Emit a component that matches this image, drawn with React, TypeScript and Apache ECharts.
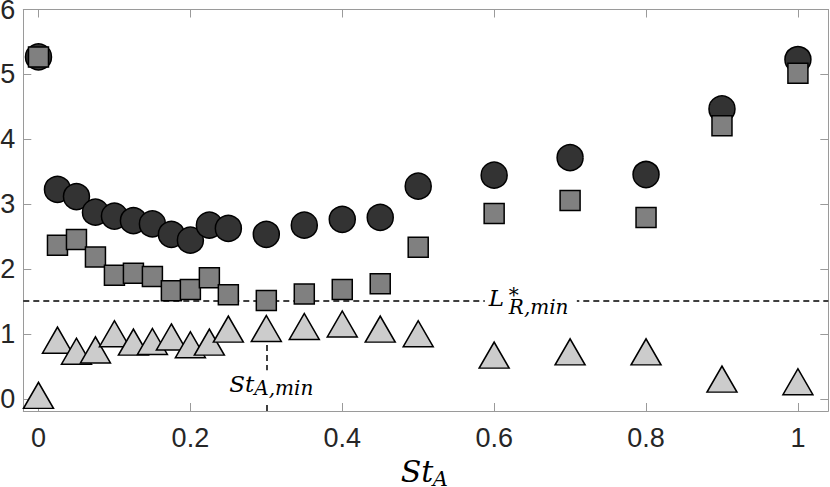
import React, { useEffect, useRef } from "react";
import * as echarts from "echarts";

// ---- data ----
const stA = [0, 0.025, 0.05, 0.075, 0.1, 0.125, 0.15, 0.175, 0.2, 0.225, 0.25, 0.3, 0.35, 0.4, 0.45, 0.5, 0.6, 0.7, 0.8, 0.9, 1];
const circleVals = [5.27, 3.23, 3.12, 2.88, 2.82, 2.75, 2.7, 2.54, 2.45, 2.68, 2.63, 2.54, 2.68, 2.77, 2.8, 3.28, 3.45, 3.72, 3.46, 4.47, 5.23];
const squareVals = [5.27, 2.37, 2.46, 2.19, 1.91, 1.94, 1.89, 1.67, 1.69, 1.87, 1.61, 1.52, 1.62, 1.69, 1.78, 2.34, 2.86, 3.06, 2.8, 4.21, 5.02];
const triangleVals = [0.06, 0.91, 0.74, 0.76, 1.01, 0.88, 0.89, 0.96, 0.84, 0.88, 1.08, 1.09, 1.12, 1.16, 1.08, 1.01, 0.68, 0.73, 0.73, 0.31, 0.27];
const xTicks = [0, 0.2, 0.4, 0.6, 0.8, 1];
const yTicks = [0, 1, 2, 3, 4, 5, 6];
const xRange = [-0.02, 1.04];
const yRange = [-0.18, 6];
const lRmin = 1.52; // horizontal dashed line
const stAmin = 0.3; // vertical dashed line
const stAminLineTop = 0.88;
const lLabelX = 0.593; // where the L*_{R,min} label starts

const axisColor = "#9a9a9a";
const labelColor = "#262626";
const mathFont = "'DejaVu Serif', serif";

function pairs(vals: number[]) {
  return stA.map((x, i) => [x, vals[i]]);
}

function baseOption(): any {
  const axisCommon = {
    type: "value",
    splitLine: { show: false },
    axisLine: { show: true, onZero: false, lineStyle: { color: axisColor, width: 1 } },
  };
  return {
    animation: false,
    backgroundColor: "#ffffff",
    grid: { left: 23.3, right: 1.7, top: 9.5, bottom: 76, containLabel: false, outerBoundsMode: "none" },
    xAxis: [
      {
        ...axisCommon,
        min: xRange[0],
        max: xRange[1],
        position: "bottom",
        axisTick: { show: true, inside: true, length: 8, customValues: xTicks, lineStyle: { color: axisColor } },
        axisLabel: {
          show: true,
          customValues: xTicks,
          color: labelColor,
          fontSize: 27,
          fontFamily: "'Liberation Sans', Arial, sans-serif",
          margin: 13,
        },
      },
      {
        ...axisCommon,
        min: xRange[0],
        max: xRange[1],
        position: "top",
        axisTick: { show: true, inside: true, length: 8, customValues: xTicks, lineStyle: { color: axisColor } },
        axisLabel: { show: false },
      },
    ],
    yAxis: [
      {
        ...axisCommon,
        min: yRange[0],
        max: yRange[1],
        position: "left",
        axisTick: { show: true, inside: true, length: 8, customValues: yTicks, lineStyle: { color: axisColor } },
        axisLabel: {
          show: true,
          customValues: yTicks,
          color: labelColor,
          fontSize: 27,
          fontFamily: "'Liberation Sans', Arial, sans-serif",
          margin: 8,
        },
      },
      {
        ...axisCommon,
        min: yRange[0],
        max: yRange[1],
        position: "right",
        axisTick: { show: true, inside: true, length: 8, customValues: yTicks, lineStyle: { color: axisColor } },
        axisLabel: { show: false },
      },
    ],
    series: [
      {
        type: "scatter",
        name: "circles",
        data: pairs(circleVals),
        symbol: "circle",
        symbolSize: 26,
        itemStyle: { color: "#333333", borderColor: "#000000", borderWidth: 1.5, opacity: 1 },
        z: 2,
      },
      {
        type: "scatter",
        name: "squares",
        data: pairs(squareVals),
        symbol: "rect",
        symbolSize: 20,
        itemStyle: { color: "#808080", borderColor: "#000000", borderWidth: 1.5, opacity: 1 },
        z: 3,
        markLine: {
          silent: true,
          symbol: "none",
          z: 1,
          label: { show: false },
          lineStyle: { type: [6, 4], color: "#000000", width: 1.5 },
          data: [{ yAxis: lRmin }],
        },
      },
      {
        type: "scatter",
        name: "triangles",
        data: pairs(triangleVals),
        symbol: "triangle",
        symbolSize: [30, 26],
        itemStyle: { color: "#cccccc", borderColor: "#000000", borderWidth: 1.5, opacity: 1 },
        z: 4,
        markLine: {
          silent: true,
          symbol: "none",
          z: 1,
          label: { show: false },
          lineStyle: { type: [6, 4], color: "#000000", width: 1.5 },
          data: [[{ coord: [stAmin, yRange[0]] }, { coord: [stAmin, stAminLineTop] }]],
        },
      },
    ],
  };
}

function txt(text: string, x: number, baseline: number, size: number, italic: boolean, lineHeight?: number) {
  const y = baseline - 0.35 * size;
  return {
    type: "text",
    z: 101,
    silent: true,
    style: {
      text,
      x,
      y,
      font: `${italic ? "italic " : ""}${size}px ${mathFont}`,
      fill: "#000000",
      align: "left",
      verticalAlign: "middle",
      textAlign: "left",
      textVerticalAlign: "middle",
      lineHeight: lineHeight ?? size,
    },
  };
}

function buildGraphic(chart: any) {
  const p = (x: number, y: number) => chart.convertToPixel({ gridIndex: 0 }, [x, y]) as number[];
  const [lx, ly] = p(lLabelX, lRmin);
  const [sx, sy] = p(stAmin, 0);
  const [gx0, gy0] = p(xRange[0], yRange[0]);
  const [gx1] = p(xRange[1], yRange[0]);
  const cx = (gx0 + gx1) / 2;
  const els: any[] = [
    // L*_{R,min}
    { type: "rect", z: 100, silent: true, shape: { x: lx - 4, y: ly - 13, width: 92, height: 30 }, style: { fill: "#ffffff" } },
    txt("L", lx, ly + 5, 23, true, 18),
    {
      type: "text",
      z: 101,
      silent: true,
      style: {
        text: "{s|*}\n{b|R,min}",
        x: lx + 20,
        y: ly - 12,
        align: "left",
        verticalAlign: "top",
        textAlign: "left",
        textVerticalAlign: "top",
        fill: "#000000",
        rich: {
          s: { fontFamily: mathFont, fontSize: 20, lineHeight: 12, fill: "#000000", color: "#000000" },
          b: { fontFamily: mathFont, fontStyle: "italic", fontSize: 20, lineHeight: 13, fill: "#000000", color: "#000000" },
        },
      },
    },
    // St_{A,min}
    { type: "rect", z: 100, silent: true, shape: { x: sx - 40, y: sy - 29, width: 92, height: 32 }, style: { fill: "#ffffff" } },
    txt("St", sx - 37, sy - 7, 23, true, 18),
    txt("A,min", sx - 12, sy - 4, 20, true, 13),
    // axis title St_A
    txt("St", cx - 25, gy0 + 71, 30, true, 22),
    txt("A", cx + 7, gy0 + 75, 21, true, 13),
  ];
  return els;
}

export default function App() {
  const ref = useRef<HTMLDivElement>(null);
  useEffect(() => {
    if (!ref.current) return;
    const chart = echarts.init(ref.current, undefined, { renderer: "svg" });
    chart.setOption(baseOption());
    chart.setOption({ graphic: { elements: buildGraphic(chart) } });
    return () => chart.dispose();
  }, []);
  return (
    <div
      ref={ref}
      style={{ position: "fixed", left: 0, top: 0, width: 830, height: 487, background: "#fff" }}
    />
  );
}
